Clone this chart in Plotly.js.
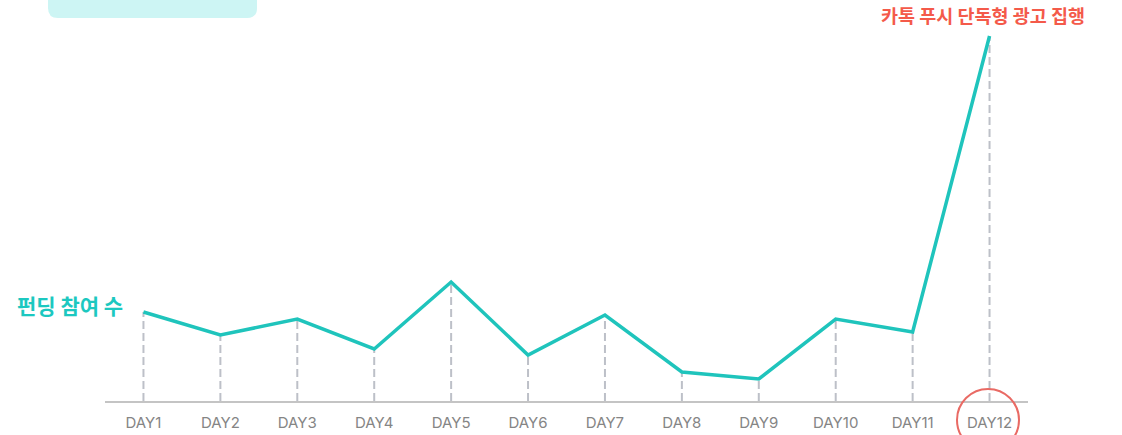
<!DOCTYPE html>
<html>
<head>
<meta charset="utf-8">
<script src="https://cdn.plot.ly/plotly-3.0.1.min.js"></script>
<style>
  html, body { margin: 0; padding: 0; background: #fff; }
  #gd { width: 1122px; height: 435px; }
</style>
</head>
<body>
<div id="gd"></div>
<script>
"use strict";

/* data */
var days = ["DAY1", "DAY2", "DAY3", "DAY4", "DAY5", "DAY6", "DAY7", "DAY8", "DAY9", "DAY10", "DAY11", "DAY12"];
var joins = [89, 66, 82, 52, 119, 46, 86, 29, 22, 82, 69, 365];
var seriesLabel = "펀딩 참여 수";
var eventLabel = "카톡 푸시 단독형 광고 집행";

/* plot area in pixels */
var W = 1122, H = 435;
var pl = 105, pr = 1028, pt = 0, pb = 401;

function px(x) { return (x - pl) / (pr - pl); }
function py(y) { return (pb - y) / (pb - pt); }

function main()
{
	var gd = document.getElementById("gd");

	/* dashed drop lines, one segment per day */
	var dropX = [], dropY = [];
	for (var i = 0; i < days.length; i++) {
		dropX.push(days[i], days[i], null);
		dropY.push(0, joins[i], null);
	}

	var drops = {
		x: dropX,
		y: dropY,
		type: 'scatter',
		mode: 'lines',
		line: {color: '#bdc0c8', width: 2, dash: '8px,4px'},
		hoverinfo: 'skip',
		connectgaps: false
	};

	var line = {
		x: days,
		y: joins,
		type: 'scatter',
		mode: 'lines',
		line: {color: '#1fc4bc', width: 3.5},
		name: seriesLabel
	};

	/* rounded box at top left */
	var bx0 = 48, bx1 = 257, by0 = -12, by1 = 18, r = 10;
	var boxPath = "M " + px(bx0) + "," + py(by0) +
		" L " + px(bx0) + "," + py(by1 - r) +
		" Q " + px(bx0) + "," + py(by1) + " " + px(bx0 + r) + "," + py(by1) +
		" L " + px(bx1 - r) + "," + py(by1) +
		" Q " + px(bx1) + "," + py(by1) + " " + px(bx1) + "," + py(by1 - r) +
		" L " + px(bx1) + "," + py(by0) + " Z";

	var layout = {
		width: W,
		height: H,
		margin: {l: pl, r: W - pr, t: pt, b: H - pb, pad: 0},
		paper_bgcolor: '#ffffff',
		plot_bgcolor: '#ffffff',
		showlegend: false,
		font: {family: 'Inter, "Noto Sans CJK KR", sans-serif'},
		xaxis: {
			type: 'category',
			range: [-0.5, 11.5],
			showgrid: false,
			zeroline: false,
			showline: true,
			linecolor: '#c4c4c4',
			linewidth: 2,
			ticks: '',
			ticklabelstandoff: 7,
			tickfont: {size: 15, color: '#858585'},
			fixedrange: true
		},
		yaxis: {
			range: [0, pb - pt],
			showgrid: false,
			zeroline: false,
			showline: false,
			showticklabels: false,
			fixedrange: true
		},
		shapes: [
			{type: 'path', xref: 'paper', yref: 'paper', path: boxPath,
			 fillcolor: '#cdf5f4', line: {width: 0}, layer: 'below'},
			{type: 'circle', xref: 'paper', yref: 'paper',
			 x0: px(957), x1: px(1019), y0: py(451), y1: py(389),
			 line: {color: '#e96a64', width: 2}, fillcolor: 'rgba(0,0,0,0)'}
		],
		annotations: [
			{text: '<b>' + seriesLabel + '</b>', xref: 'paper', yref: 'paper',
			 x: px(15), y: py(305), xanchor: 'left', yanchor: 'middle', showarrow: false,
			 font: {family: '"Noto Sans CJK KR", sans-serif', size: 21, color: '#1cc8c0'}},
			{text: '<b>' + eventLabel + '</b>', xref: 'paper', yref: 'paper',
			 x: px(983), y: py(15), xanchor: 'center', yanchor: 'middle', showarrow: false,
			 font: {family: '"Noto Sans CJK KR", sans-serif', size: 18.5, color: '#f45a4a'}}
		]
	};

	Plotly.newPlot(gd, [drops, line], layout, {displayModeBar: false, staticPlot: true});
}

main();
</script>
</body>
</html>
